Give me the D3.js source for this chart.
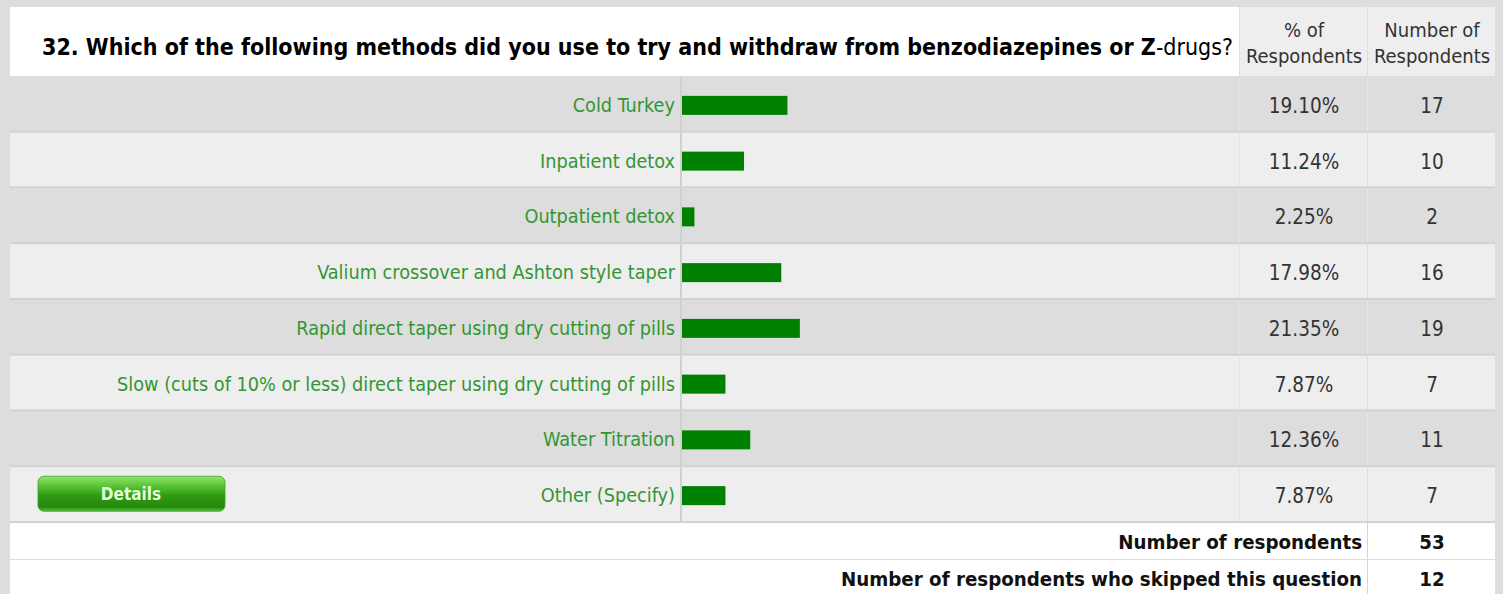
<!DOCTYPE html>
<html>
<head>
<meta charset="utf-8">
<script src="https://cdn.jsdelivr.net/npm/d3@7"></script>
<style>
  html, body { margin: 0; padding: 0; background: #dddddd; }
  svg { display: block; }
  text { font-family: Tahoma, "DejaVu Sans Condensed", "DejaVu Sans", sans-serif; }
</style>
</head>
<body>
<svg id="chart" width="1503" height="594"></svg>
<script>
// Survey question 32 — answer choices, response share and counts
const questionText = "32. Which of the following methods did you use to try and withdraw from benzodiazepines or ";
const questionLetter = "Z";
const questionTail = "-drugs?";
const answers = [
  "Cold Turkey",
  "Inpatient detox",
  "Outpatient detox",
  "Valium crossover and Ashton style taper",
  "Rapid direct taper using dry cutting of pills",
  "Slow (cuts of 10% or less) direct taper using dry cutting of pills",
  "Water Titration",
  "Other (Specify)"
];
const percents = [19.10, 11.24, 2.25, 17.98, 21.35, 7.87, 12.36, 7.87];
const counts = [17, 10, 2, 16, 19, 7, 11, 7];
const headerPercent = ["% of", "Respondents"];
const headerCount = ["Number of", "Respondents"];
const footerLabels = ["Number of respondents", "Number of respondents who skipped this question"];
const footerValues = [53, 12];

const svg = d3.select("#chart");
const W = 1503, H = 594;
const left = 10, right = 1495;
const barX0 = 682, pctX0 = 1239, cntX0 = 1367;

// background
svg.append("rect").attr("width", W).attr("height", H).attr("fill", "#dddddd");

// gradient for the Details button
const defs = svg.append("defs");
const grad = defs.append("linearGradient").attr("id", "btnGrad")
  .attr("x1", 0).attr("y1", 0).attr("x2", 0).attr("y2", 1);
[["0%", "#93e46c"], ["35%", "#4cbb2c"], ["55%", "#2f9b15"], ["88%", "#26870d"], ["100%", "#52c23a"]]
  .forEach(([o, c]) => grad.append("stop").attr("offset", o).attr("stop-color", c));

// title cell and header cells
svg.append("rect").attr("x", left).attr("y", 7).attr("width", pctX0 - left).attr("height", 69).attr("fill", "#ffffff");
svg.append("rect").attr("x", pctX0 + 1).attr("y", 7).attr("width", cntX0 - pctX0 - 1).attr("height", 69).attr("fill", "#eeeeee");
svg.append("rect").attr("x", cntX0 + 1).attr("y", 7).attr("width", right - cntX0 - 1).attr("height", 69).attr("fill", "#eeeeee");

const title = svg.append("text").attr("x", 42).attr("y", 55)
  .attr("font-size", 23).attr("fill", "#000");
title.append("tspan").attr("font-weight", "bold").text(questionText + questionLetter);
title.append("tspan").text(questionTail);

const headerCenters = [(pctX0 + cntX0) / 2 + 1, (cntX0 + right) / 2 + 1];
[headerPercent, headerCount].forEach((lines, k) => {
  const t = svg.append("text").attr("text-anchor", "middle").attr("font-size", 20).attr("fill", "#333");
  lines.forEach((ln, j) => t.append("tspan").attr("x", headerCenters[k]).attr("y", 37 + j * 26).text(ln));
});

// data rows
const y = d3.scaleBand().domain(d3.range(answers.length)).range([77, 523]);
const x = d3.scaleLinear().domain([0, 100]).range([barX0, barX0 + 552]);

const rows = svg.append("g").selectAll("g").data(answers).join("g")
  .attr("transform", (d, i) => `translate(0,${y(i)})`);

rows.append("rect").attr("x", left).attr("width", right - left)
  .attr("height", y.bandwidth() - 2)
  .attr("fill", (d, i) => i % 2 === 0 ? "#dddddd" : "#eeeeee");
rows.append("rect").attr("x", left).attr("width", right - left)
  .attr("y", y.bandwidth() - 2).attr("height", 2).attr("fill", "#d2d2d2");

// column dividers inside rows
rows.append("rect").attr("x", barX0 - 2).attr("width", 2).attr("height", y.bandwidth() - 2).attr("fill", "#d0d0d0");
rows.append("rect").attr("x", pctX0).attr("width", 1).attr("height", y.bandwidth() - 2)
  .attr("fill", (d, i) => i % 2 === 0 ? "#e2e2e2" : "#e4e4e4");
rows.append("rect").attr("x", cntX0).attr("width", 1).attr("height", y.bandwidth() - 2)
  .attr("fill", (d, i) => i % 2 === 0 ? "#e6e6e6" : "#dcdcdc");

const mid = (y.bandwidth() - 2) / 2;
rows.append("text").attr("x", barX0 - 7).attr("y", mid + 8)
  .attr("text-anchor", "end").attr("font-size", 19.7).attr("fill", "#339633")
  .text(d => d);

rows.append("rect").attr("x", barX0).attr("y", mid - 8).attr("height", 19)
  .attr("width", (d, i) => x(percents[i]) - x(0)).attr("fill", "#008000");

rows.append("text").attr("x", headerCenters[0]).attr("y", mid + 9)
  .attr("text-anchor", "middle").attr("font-size", 20.5).attr("fill", "#333")
  .text((d, i) => percents[i].toFixed(2) + "%");
rows.append("text").attr("x", headerCenters[1]).attr("y", mid + 9)
  .attr("text-anchor", "middle").attr("font-size", 20.5).attr("fill", "#333")
  .text((d, i) => counts[i]);

// Details button in the last row
const lastY = y(answers.length - 1);
svg.append("rect").attr("x", 38).attr("y", lastY + 9).attr("width", 187).attr("height", 35)
  .attr("rx", 6).attr("fill", "url(#btnGrad)").attr("stroke", "#3aa022").attr("stroke-width", 0.8);
svg.append("text").attr("x", 131).attr("y", lastY + 33).attr("text-anchor", "middle")
  .attr("font-size", 17).attr("font-weight", "bold").attr("fill", "#e4ffd8").text("Details");

// footer totals
const fy = [523, 560];
const fh = [36, 34];
footerLabels.forEach((lab, k) => {
  svg.append("rect").attr("x", left).attr("y", fy[k]).attr("width", right - left).attr("height", fh[k]).attr("fill", "#ffffff");
  svg.append("rect").attr("x", cntX0).attr("y", fy[k]).attr("width", 1).attr("height", fh[k]).attr("fill", "#d6d6d6");
  svg.append("text").attr("x", cntX0 - 5).attr("y", fy[k] + 26).attr("text-anchor", "end")
    .attr("font-size", 20.3).attr("font-weight", "bold").attr("fill", "#111").text(lab);
  svg.append("text").attr("x", headerCenters[1]).attr("y", fy[k] + 26).attr("text-anchor", "middle")
    .attr("font-size", 20.3).attr("font-weight", "bold").attr("fill", "#111").text(footerValues[k]);
});
</script>
</body>
</html>
